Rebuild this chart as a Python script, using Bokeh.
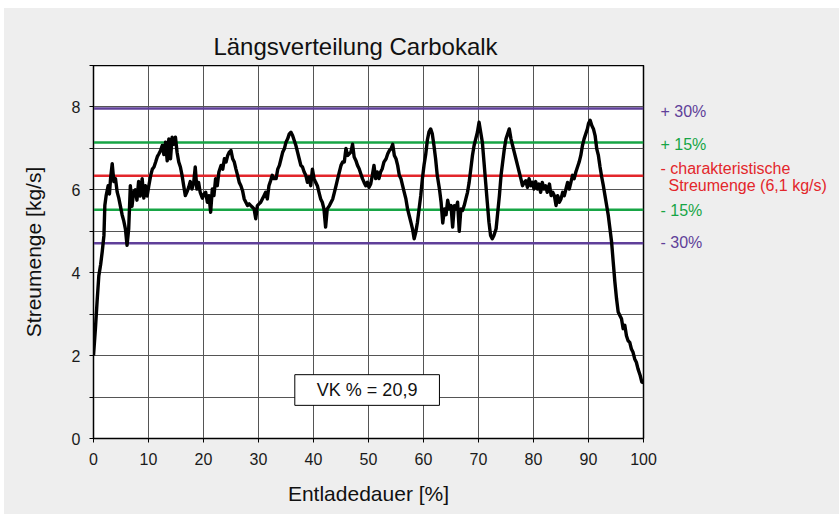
from bokeh.plotting import figure
from bokeh.models import Span, Label, BoxAnnotation, FixedTicker, Range1d, Spacer
from bokeh.layouts import column, row
from bokeh.embed import file_html
from bokeh.resources import INLINE

# ---- data ----
entladedauer = [
    0, 0.35, 0.65, 0.97, 1.3, 1.58, 1.9, 2.06, 2.3, 2.67, 2.9, 3.1, 3.4, 3.7, 4.0, 4.3, 4.6, 4.9,
    5.2, 5.5, 5.8, 6.1, 6.4, 6.7, 7.0, 7.3, 7.6, 7.9, 8.2, 8.5, 8.85, 9.15, 9.45, 9.75, 10.06,
    10.4, 10.7, 11.0, 11.3, 11.6, 11.9, 12.2, 12.5, 12.8, 13.1, 13.4, 13.7, 14.0, 14.3, 14.6,
    14.9, 15.2, 15.5, 15.8, 16.1, 16.4, 16.7, 17.0, 17.3, 17.6, 17.9, 18.2, 18.5, 18.8, 19.1,
    19.4, 19.8, 20.1,
    20.4, 20.7, 21.0, 21.3, 21.6, 21.9, 22.2, 22.5, 22.8, 23.2, 23.5, 23.8, 24.1, 24.4, 24.7,
    25.0, 25.3, 25.6, 25.9, 26.2, 26.5, 26.8, 27.1, 27.4, 27.7, 28.0, 28.3, 28.6, 28.9, 29.2,
    29.5, 29.8, 30.1, 30.4, 30.7, 31.0, 31.3, 31.6, 31.9, 32.2, 32.5, 32.8, 33.2, 33.5, 33.8,
    34.1, 34.4, 34.7, 35.0, 35.3, 35.6, 35.9, 36.2, 36.5, 36.8, 37.1, 37.4, 37.7, 38.0, 38.3,
    38.6, 38.9, 39.2, 39.5, 39.8,
    40.1, 40.4, 40.7, 41.0, 41.3, 41.6, 41.9, 42.2, 42.5, 42.9, 43.2, 43.5, 43.8, 44.1, 44.4,
    44.7, 45.0, 45.3, 45.6, 45.9, 46.2, 46.5, 46.8, 47.1, 47.4, 47.7, 48.0, 48.3, 48.6, 48.9,
    49.2, 49.5, 49.8, 50.1, 50.4, 50.7, 51.0, 51.3, 51.6, 51.9, 52.2, 52.5, 52.8, 53.2, 53.5,
    53.8, 54.1, 54.4, 54.7, 55.0, 55.3, 55.6, 55.9, 56.2, 56.5, 56.8, 57.1, 57.4, 57.7, 58.0,
    58.3, 58.6, 58.9, 59.2, 59.5, 59.8, 60.1, 60.4, 60.7, 61.0, 61.3, 61.6, 61.9, 62.2, 62.5,
    62.9, 63.2, 63.5, 63.8, 64.1, 64.4, 64.7, 65.0, 65.3, 65.6, 65.9, 66.2, 66.5, 66.8, 67.1,
    67.4, 67.7, 68.0, 68.3, 68.6, 68.9, 69.2, 69.5, 69.8, 70.1, 70.4, 70.7, 71.0, 71.3, 71.6,
    71.9, 72.2, 72.5, 72.8, 73.2, 73.5, 73.8, 74.1, 74.4, 74.7, 75.0, 75.3, 75.6, 75.9, 76.2,
    76.5, 76.8, 77.1, 77.4, 77.7, 78.0, 78.3, 78.6, 78.9, 79.2, 79.5, 79.8, 80.1, 80.4, 80.7,
    81.0, 81.3, 81.6, 81.9, 82.2, 82.5, 82.9, 83.2, 83.5, 83.8, 84.1, 84.4, 84.7, 85.0, 85.3,
    85.6, 85.9, 86.2, 86.5, 86.8, 87.1, 87.4, 87.7, 88.0, 88.3, 88.6, 88.9, 89.2, 89.5, 89.8,
    90.0, 90.3, 90.6, 90.9, 91.2, 91.5, 91.8, 92.1, 92.4, 92.7, 93.0, 93.3, 93.6, 93.9, 94.2,
    94.5, 94.8, 95.1, 95.4, 95.7, 96.0, 96.3, 96.6, 96.9, 97.2, 97.5, 97.8, 98.1, 98.4, 98.7,
    99.0, 99.4, 99.7, 100.0,
]
streumenge = [
    2.0, 2.65, 3.3, 3.93, 4.2, 4.5, 4.9, 5.62, 5.86, 6.1, 5.9, 6.27, 6.63, 6.2, 6.27, 5.95, 5.8, 5.6,
    5.4, 5.25, 5.06, 4.66, 5.06, 6.1, 5.6, 5.95, 6.0, 5.75, 6.2, 5.85, 6.27, 5.8, 6.1, 5.85, 6.1,
    6.35, 6.5, 6.55, 6.67, 6.8, 6.87, 6.95, 7.07, 6.85, 7.15, 6.7, 7.23, 6.75, 7.27, 7.1,
    7.27, 6.9, 6.67, 6.55, 6.35, 6.1, 5.86, 5.95, 6.06, 6.2, 6.02, 6.15, 6.55, 6.02, 6.18,
    5.94, 5.8, 5.9,
    5.94, 5.7, 5.86, 5.46, 6.02, 5.86, 6.27, 6.1, 6.43, 6.59, 6.5, 6.75, 6.67, 6.83, 6.91,
    6.95, 6.75, 6.67, 6.5, 6.35, 6.18, 6.1, 5.98, 5.78, 5.7, 5.62, 5.66, 5.62, 5.58, 5.54,
    5.3, 5.62, 5.66, 5.7, 5.78, 5.86, 5.94, 5.78, 6.1, 6.22, 6.35, 6.27, 6.27, 6.5, 6.59,
    6.75, 6.91, 6.99, 7.15, 7.23, 7.35, 7.39, 7.31, 7.19, 7.07, 6.91, 6.75, 6.59, 6.55, 6.43,
    6.35, 6.18, 6.31, 6.1, 6.5,
    6.27, 6.18, 6.1, 5.94, 5.78, 5.7, 5.54, 5.1, 5.54, 5.62, 5.7, 5.78, 5.94, 6.1, 6.27,
    6.43, 6.59, 6.67, 6.67, 7.0, 6.83, 6.87, 6.91, 7.1, 6.79, 6.71, 6.59, 6.51, 6.39, 6.27,
    6.18, 6.1, 6.18, 6.06, 6.14, 6.35, 6.59, 6.27, 6.43, 6.27, 6.43, 6.51, 6.67, 6.75, 6.87,
    6.95, 6.99, 7.1, 6.83, 6.75, 6.59, 6.35, 6.27, 6.1, 5.94, 5.78, 5.54, 5.38, 5.22, 5.06,
    4.82, 4.98, 5.22, 5.54, 5.86, 6.27, 6.6, 6.85, 7.2, 7.4, 7.47, 7.35, 7.07, 6.75, 6.35,
    6.02, 5.7, 5.2, 5.54, 5.4, 5.75, 5.54, 5.62, 5.1, 5.62, 5.54, 5.7, 5.0, 5.54, 5.5,
    5.62, 5.78, 5.94, 6.18, 6.5, 6.83, 7.07, 7.23, 7.39, 7.63, 7.39, 7.15, 6.67, 6.18, 5.7,
    5.22, 4.9, 4.82, 4.9, 5.06, 5.46, 5.86, 6.35, 6.67, 6.99, 7.23, 7.35, 7.47, 7.23, 7.07,
    6.91, 6.75, 6.59, 6.43, 6.27, 6.1, 6.18, 6.22, 6.06, 6.27, 6.1, 6.18, 6.02, 6.2, 6.02,
    6.14, 5.94, 6.18, 6.02, 6.1, 5.94, 6.14, 5.86, 5.94, 5.86, 5.62, 5.86, 5.7, 5.78, 5.94,
    5.86, 6.02, 6.18, 6.02, 6.18, 6.35, 6.27, 6.43, 6.55, 6.67, 6.83, 7.07, 7.23, 7.35, 7.47,
    7.6, 7.68, 7.55, 7.47, 7.31, 6.99, 6.83, 6.55, 6.31, 6.1, 5.86, 5.62, 5.38, 5.06, 4.74,
    4.25, 3.77, 3.37, 3.05, 2.97, 2.89, 2.65, 2.73, 2.48, 2.36, 2.32, 2.16, 2.08, 1.92, 1.84,
    1.68, 1.52, 1.36, 1.35,
]

ref_levels = [7.96, 7.14, 6.34, 5.52, 4.71]
ref_colors = ["#5f3f99", "#17a545", "#e3262b", "#17a545", "#5f3f99"]
ref_labels = ["+ 30%", "+ 15%", "- charakteristische", "Streumenge (6,1 kg/s)", "- 15%", "- 30%"]
ref_label_colors = ["#5f3f99", "#17a545", "#e3262b", "#e3262b", "#17a545", "#5f3f99"]

x_ticks = list(range(0, 101, 10))
y_ticks = list(range(0, 10))
y_tick_labels = {1: "", 3: "", 5: "", 7: "", 9: ""}

title_text = "Längsverteilung Carbokalk"
x_label = "Entladedauer [%]"
y_label = "Streumenge [kg/s]"
vk_text = "VK % = 20,9"

# ---- styling / layout (positions, not data) ----
FONT = "Liberation Sans"
BG = "#eeeeee"
label_y = [7.88, 7.10, 6.51, 6.11, 5.51, 4.72]   # vertical centres in the value scale
label_x = [1, 1, 1, 9, 1, 1]                      # px inside the right strip

# main plot
p = figure(width=655, height=449, output_backend="svg", toolbar_location=None, title=None,
           x_range=Range1d(0, 100), y_range=Range1d(0, 9),
           min_border_left=89, min_border_right=16, min_border_top=0, min_border_bottom=76)
p.border_fill_color = BG
p.background_fill_color = "white"
p.outline_line_color = "black"
p.outline_line_width = 1.5

p.xaxis.ticker = FixedTicker(ticks=x_ticks)
p.yaxis.ticker = FixedTicker(ticks=y_ticks)
p.yaxis.major_label_overrides = y_tick_labels
for ax in (p.xaxis[0], p.yaxis[0]):
    ax.axis_line_color = "black"
    ax.major_tick_line_color = "black"
    ax.major_tick_in = 0
    ax.major_tick_out = 4
    ax.minor_tick_line_color = None
    ax.major_label_text_font = FONT
    ax.major_label_text_font_size = "16px"
    ax.major_label_text_color = "#1a1a1a"
    ax.axis_label_text_font = FONT
    ax.axis_label_text_font_size = "21px"
    ax.axis_label_text_font_style = "normal"
    ax.axis_label_text_color = "#111111"
p.xaxis.major_label_standoff = 10
p.xaxis.axis_label_standoff = 14
p.yaxis.major_label_standoff = 9
p.yaxis.axis_label_standoff = 24
p.xaxis.axis_label = x_label
p.yaxis.axis_label = y_label

p.grid.grid_line_color = "#555555"
p.grid.grid_line_width = 1
p.grid.grid_line_alpha = 1

for lvl, col in zip(ref_levels, ref_colors):
    p.add_layout(Span(location=lvl, dimension="width", line_color=col, line_width=2.5,
                      level="underlay"))

p.line(entladedauer, streumenge, line_color="black", line_width=3.4, line_join="round")

p.add_layout(BoxAnnotation(left=36.6, right=62.9, bottom=0.80, top=1.54,
                           fill_color="white", fill_alpha=1, line_color="black",
                           line_width=1, line_alpha=1, level="annotation"))
p.add_layout(Label(x=49.75, y=1.17, text=vk_text, text_font=FONT, text_font_size="18px",
                   text_align="center", text_baseline="middle", text_color="#111111"))

# right strip with the reference-line labels, sharing the value scale
pr = figure(width=180, height=449, output_backend="svg", toolbar_location=None, title=None,
            x_range=Range1d(0, 180), y_range=p.y_range,
            x_axis_location=None, y_axis_location=None,
            min_border_left=0, min_border_right=0, min_border_top=0, min_border_bottom=76)
pr.border_fill_color = BG
pr.background_fill_color = BG
pr.outline_line_color = None
pr.grid.visible = False
for txt, xx, yy, col in zip(ref_labels, label_x, label_y, ref_label_colors):
    pr.add_layout(Label(x=xx, y=yy, text=txt, text_color=col, text_font=FONT,
                        text_font_size="16px", text_baseline="middle", text_align="left"))

# title strip
pt = figure(width=835, height=57, output_backend="svg", toolbar_location=None, title=None,
            x_range=Range1d(0, 835), y_range=Range1d(0, 57),
            x_axis_location=None, y_axis_location=None, min_border=0)
pt.border_fill_color = BG
pt.background_fill_color = BG
pt.outline_line_color = None
pt.grid.visible = False
pt.add_layout(Label(x=351, y=19, text=title_text, text_font=FONT, text_font_size="24px",
                    text_align="center", text_baseline="alphabetic", text_color="#111111"))

inner = column(pt, row(p, pr, spacing=0, styles={"background-color": BG}),
               spacing=0, styles={"background-color": BG})
layout = column(
    Spacer(width=839, height=8),
    row(Spacer(width=4, height=506), inner, spacing=0),
    spacing=0,
)

open("out.html", "w").write(file_html(layout, INLINE))
